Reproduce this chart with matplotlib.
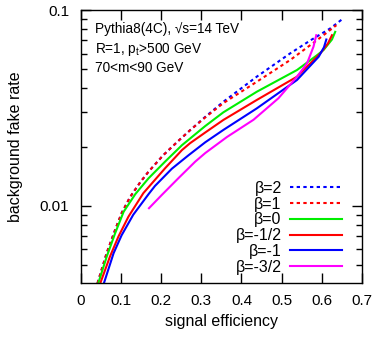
import numpy as np
import matplotlib
matplotlib.use("Agg")
import matplotlib.pyplot as plt

plt.rcParams['font.family'] = ['Liberation Sans', 'DejaVu Sans']
plt.rcParams['mathtext.fontset'] = 'custom'
plt.rcParams['mathtext.rm'] = 'Liberation Sans'

# signal efficiency and log10(background fake rate)
# beta = 2 (dotted blue)
x_b2 = [0.042, 0.065, 0.086, 0.102, 0.123, 0.148, 0.169, 0.206, 0.243, 0.273, 0.310, 0.355, 0.438, 0.521, 0.571, 0.621, 0.650]
lg_b2 = [-2.395, -2.24, -2.122, -2.037, -1.955, -1.880, -1.825, -1.740, -1.668, -1.612, -1.545, -1.468, -1.340, -1.221, -1.155, -1.093, -1.047]
# beta = 1 (dotted red)
x_b1 = [0.042, 0.065, 0.086, 0.102, 0.123, 0.148, 0.169, 0.206, 0.243, 0.273, 0.310, 0.355, 0.438, 0.521, 0.588, 0.636]
lg_b1 = [-2.395, -2.24, -2.122, -2.037, -1.955, -1.880, -1.825, -1.740, -1.668, -1.612, -1.548, -1.475, -1.366, -1.255, -1.153, -1.077]
# beta = 0
x_b0 = [0.044, 0.065, 0.086, 0.107, 0.136, 0.169, 0.210, 0.252, 0.310, 0.355, 0.438, 0.538, 0.588, 0.604, 0.625, 0.633]
lg_b0 = [-2.395, -2.259, -2.139, -2.030, -1.940, -1.859, -1.774, -1.690, -1.592, -1.522, -1.417, -1.306, -1.230, -1.204, -1.150, -1.111]
# beta = -1/2
x_bm05 = [0.049, 0.073, 0.094, 0.119, 0.156, 0.210, 0.252, 0.272, 0.310, 0.355, 0.438, 0.538, 0.596, 0.615, 0.625]
lg_bm05 = [-2.395, -2.259, -2.157, -2.055, -1.935, -1.808, -1.715, -1.680, -1.625, -1.561, -1.459, -1.340, -1.221, -1.170, -1.128]
# beta = -1
x_bm1 = [0.058, 0.082, 0.102, 0.131, 0.152, 0.169, 0.185, 0.227, 0.268, 0.310, 0.355, 0.438, 0.538, 0.592, 0.605, 0.611]
lg_bm1 = [-2.395, -2.242, -2.150, -2.045, -1.987, -1.940, -1.898, -1.810, -1.742, -1.675, -1.612, -1.502, -1.357, -1.238, -1.190, -1.150]
# beta = -3/2
x_bm15 = [0.170, 0.202, 0.243, 0.285, 0.310, 0.364, 0.430, 0.492, 0.538, 0.563, 0.579, 0.586]
lg_bm15 = [-2.012, -1.944, -1.859, -1.774, -1.730, -1.648, -1.560, -1.450, -1.340, -1.272, -1.187, -1.128]

series = [
    (x_b2, lg_b2, '#0000ff', 'dots', 'β=2'),
    (x_b1, lg_b1, '#ff0000', 'dots', 'β=1'),
    (x_b0, lg_b0, '#00ee00', 'solid', 'β=0'),
    (x_bm05, lg_bm05, '#ff0000', 'solid', 'β=-1/2'),
    (x_bm1, lg_bm1, '#0000ff', 'solid', 'β=-1'),
    (x_bm15, lg_bm15, '#ff00ff', 'solid', 'β=-3/2'),
]

fig = plt.figure(figsize=(3.82, 3.38), dpi=100)
ax = fig.add_axes([0.211, 0.163, 0.737, 0.807])

for xs, lg, col, st, lab in series:
    ls = (0, (1.6, 1.6)) if st == 'dots' else '-'
    ax.plot(xs, 10 ** np.array(lg), color=col, lw=1.5, ls=ls, label=lab)

ax.set_yscale('log')
ax.set_xlim(0, 0.7)
ax.set_ylim(0.00404, 0.1)
ax.set_xticks(np.arange(0, 0.71, 0.1))
ax.set_xticklabels(['0', '0.1', '0.2', '0.3', '0.4', '0.5', '0.6', '0.7'])
ax.set_yticks([0.01, 0.1])
ax.set_yticklabels(['0.01', '0.1'])
ax.tick_params(which='both', direction='in', top=True, right=True, labelsize=11, width=1)
ax.tick_params(which='major', length=7)
ax.tick_params(which='minor', length=4)
ax.tick_params(axis='x', pad=8)
ax.tick_params(axis='y', pad=8)
for s in ax.spines.values():
    s.set_linewidth(1)

ax.set_xlabel('signal efficiency', fontsize=11.5, labelpad=4)
ax.set_ylabel('background fake rate', fontsize=11.5, labelpad=12)

ax.text(0.05, 0.93, 'Pythia8(4C), \u221As=14 TeV', transform=ax.transAxes, fontsize=9.8, va='center')
ax.text(0.05, 0.857, r'R=1, $\mathrm{p}_\mathrm{t}$>500 GeV', transform=ax.transAxes, fontsize=9.8, va='center')
ax.text(0.05, 0.788, '70<m<90 GeV', transform=ax.transAxes, fontsize=9.8, va='center')

ax.legend(loc='lower right', bbox_to_anchor=(0.93, 0.03), frameon=False, markerfirst=False,
          fontsize=11.5, handlelength=3.3, labelspacing=0.05, handletextpad=0.5, borderaxespad=0,
          borderpad=0)

fig.savefig('out.png', dpi=100)
